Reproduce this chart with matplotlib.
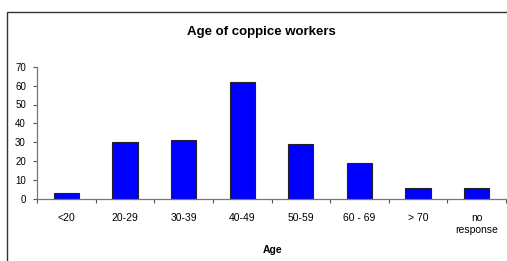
import numpy as np
import matplotlib
matplotlib.use("Agg")
from matplotlib import pyplot as plt
from matplotlib.patches import Rectangle

plt.rcParams['font.family'] = ['Liberation Sans', 'DejaVu Sans']

# data
ages = ['<20', '20-29', '30-39', '40-49', '50-59', '60 - 69', '> 70', 'no\nresponse']
counts = [3, 30, 31, 62, 29, 19, 6, 6]

fig = plt.figure(figsize=(5.07, 2.61), dpi=100)

# outer chart border (runs off the right and bottom edges)
fig.patches.append(Rectangle((7 / 507, -0.1), 1.1, 1 - 12 / 261 + 0.1,
                             transform=fig.transFigure, fill=False,
                             edgecolor='#333333', linewidth=1.0))

ax = fig.add_axes([37 / 507, 1 - 199 / 261, 469 / 507, (199 - 66.7) / 261])
x = np.arange(len(ages))
ax.bar(x, counts, width=0.43, color='#0000FF', edgecolor='#222222', linewidth=0.8)

ax.set_xlim(-0.5, len(ages) - 0.5)
ax.set_ylim(0, 70)
ax.set_yticks(range(0, 71, 10))
ax.set_xticks(x)
ax.set_xticklabels(ages, fontsize=7.5, linespacing=1.25)
ax.set_xticks(np.arange(-0.5, len(ages), 1), minor=True)
ax.tick_params(axis='x', which='major', length=0, pad=10)
ax.tick_params(axis='x', which='minor', length=3, color='#555555', width=0.8)
ax.tick_params(axis='y', labelsize=7, length=3, color='#555555', width=0.8, pad=5)

for side in ['top', 'right']:
    ax.spines[side].set_visible(False)
for side in ['left', 'bottom']:
    ax.spines[side].set_color('#777777')
    ax.spines[side].set_linewidth(0.9)

fig.text(261 / 507, 1 - 32 / 261, 'Age of coppice workers', ha='center', va='center',
         fontsize=9.5, fontweight='bold')
fig.text(273 / 507, 1 - 250 / 261, 'Age', ha='center', va='center',
         fontsize=7.5, fontweight='bold')

fig.savefig('out.png', dpi=100)
